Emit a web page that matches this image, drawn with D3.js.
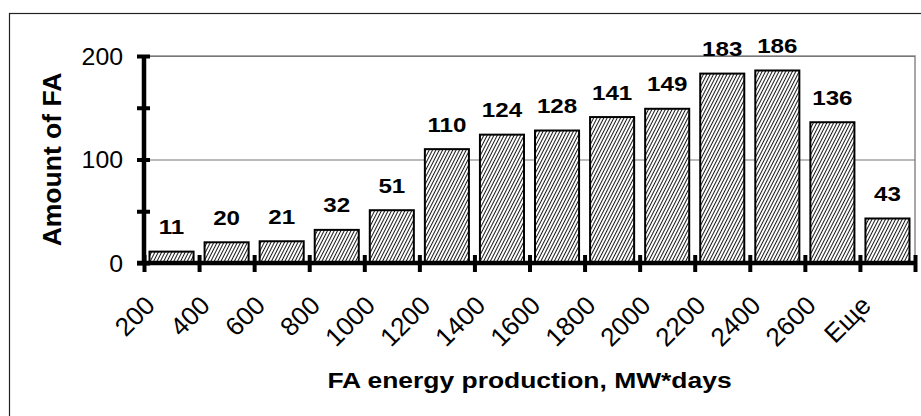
<!DOCTYPE html>
<html>
<head>
<meta charset="utf-8">
<script src="https://cdn.jsdelivr.net/npm/d3@7"></script>
<style>
  body { margin: 0; background: #fff; }
  text { font-family: "Liberation Sans", Arial, sans-serif; fill: #000; }
</style>
</head>
<body>
<svg id="chart" width="921" height="416"></svg>
<script>
// data
const categories = ["200", "400", "600", "800", "1000", "1200", "1400", "1600", "1800", "2000", "2200", "2400", "2600", "Еще"];
const counts = [11, 20, 21, 32, 51, 110, 124, 128, 141, 149, 183, 186, 136, 43];
const yTickValues = [0, 50, 100, 150, 200];
const yLabelValues = [0, 100, 200];
const yTitle = "Amount of FA";
const xTitle = "FA energy production, MW*days";

const width = 921, height = 416;
const plot = { left: 144, right: 915, top: 56, bottom: 263 };

const svg = d3.select("#chart");

// hatch fill for the bars
const defs = svg.append("defs");
defs.append("pattern")
  .attr("id", "hatch")
  .attr("patternUnits", "userSpaceOnUse")
  .attr("width", 3)
  .attr("height", 10)
  .attr("patternTransform", "rotate(27)")
  .call(p => {
    p.append("rect").attr("width", 3).attr("height", 10).attr("fill", "#fff");
    p.append("rect").attr("width", 0.9).attr("height", 10).attr("fill", "#000");
  });

// outer chart frame (runs off the picture on right/bottom)
svg.append("rect")
  .attr("x", 9.5).attr("y", 13.5)
  .attr("width", width).attr("height", height)
  .attr("fill", "none").attr("stroke", "#222").attr("stroke-width", 1.2);

const x = d3.scaleBand()
  .domain(categories)
  .range([plot.left, plot.right])
  .paddingInner(0.2)
  .paddingOuter(0.1);

const y = d3.scaleLinear()
  .domain([0, 200])
  .range([plot.bottom, plot.top]);

// category edges, used for the x tick marks
const xEdge = d3.scaleLinear()
  .domain([0, categories.length])
  .range([plot.left, plot.right]);

// plot area border + gridlines
svg.append("rect")
  .attr("x", plot.left).attr("y", y(200))
  .attr("width", plot.right - plot.left).attr("height", y(0) - y(200))
  .attr("fill", "none").attr("stroke", "#8a8a8a").attr("stroke-width", 1.5);

svg.append("g")
  .selectAll("line")
  .data(yLabelValues.filter(d => d > 0))
  .join("line")
  .attr("x1", plot.left).attr("x2", plot.right)
  .attr("y1", d => y(d) + 0.5).attr("y2", d => y(d) + 0.5)
  .attr("stroke", "#777").attr("stroke-width", 1.2);

// bars
svg.append("g")
  .selectAll("rect")
  .data(counts)
  .join("rect")
  .attr("x", (d, i) => x(categories[i]))
  .attr("y", d => y(d))
  .attr("width", x.bandwidth())
  .attr("height", d => y(0) - y(d))
  .attr("fill", "url(#hatch)")
  .attr("stroke", "#000")
  .attr("stroke-width", 2);

// y axis, ticks cross the line
const yAxis = svg.append("g")
  .attr("transform", `translate(${plot.left},0)`)
  .call(d3.axisLeft(y)
    .tickValues(yTickValues)
    .tickSizeOuter(0)
    .tickSize(7)
    .tickFormat(d => yLabelValues.includes(d) ? d : ""));
yAxis.select(".domain").attr("stroke", "#000").attr("stroke-width", 4.5)
  .attr("d", `M0,${y(200) - 1}V${y(0) + 2}`);
yAxis.selectAll(".tick line").attr("x1", 6).attr("x2", -7).attr("stroke", "#000").attr("stroke-width", 4);
yAxis.selectAll(".tick text")
  .attr("x", null).attr("dy", "0.36em")
  .attr("transform", "translate(-21,0) scale(1.08,1)")
  .style("font-size", "23px");

// x axis: tick marks at category edges
const xAxis = svg.append("g")
  .attr("transform", `translate(0,${plot.bottom})`)
  .call(d3.axisBottom(xEdge)
    .tickValues(d3.range(0, categories.length + 1))
    .tickSizeOuter(0)
    .tickSize(9)
    .tickFormat(""));
xAxis.select(".domain").attr("stroke", "#000").attr("stroke-width", 4.5)
  .attr("d", `M${plot.left - 7},0H${plot.right + 2}`);
xAxis.selectAll(".tick line").attr("y1", -8).attr("y2", 9).attr("stroke", "#000").attr("stroke-width", 4);

// x category labels, rotated
const xLabels = svg.append("g")
  .attr("transform", `translate(0,${plot.bottom})`)
  .call(d3.axisBottom(x).tickSize(0).tickSizeOuter(0));
xLabels.select(".domain").remove();
xLabels.selectAll(".tick text")
  .attr("y", 0).attr("dy", 0)
  .attr("text-anchor", "end")
  .attr("transform", "translate(-15,44) rotate(-45)")
  .style("font-size", "26px");

// value labels above bars
svg.append("g")
  .selectAll("text")
  .data(counts)
  .join("text")
  .attr("transform", (d, i) => `translate(${x(categories[i]) + x.bandwidth() / 2},${y(d) - 17.5}) scale(1.15,1)`)
  .attr("text-anchor", "middle")
  .style("font-size", "21px")
  .style("font-weight", "bold")
  .text(d => d);

// axis titles
svg.append("text")
  .attr("transform", `translate(61,${(plot.top + plot.bottom) / 2}) rotate(-90)`)
  .attr("text-anchor", "middle")
  .style("font-size", "26.5px")
  .style("font-weight", "bold")
  .text(yTitle);

svg.append("text")
  .attr("transform", `translate(${(plot.left + plot.right) / 2},388) scale(1.23,1)`)
  .attr("text-anchor", "middle")
  .style("font-size", "21.5px")
  .style("font-weight", "bold")
  .text(xTitle);
</script>
</body>
</html>
